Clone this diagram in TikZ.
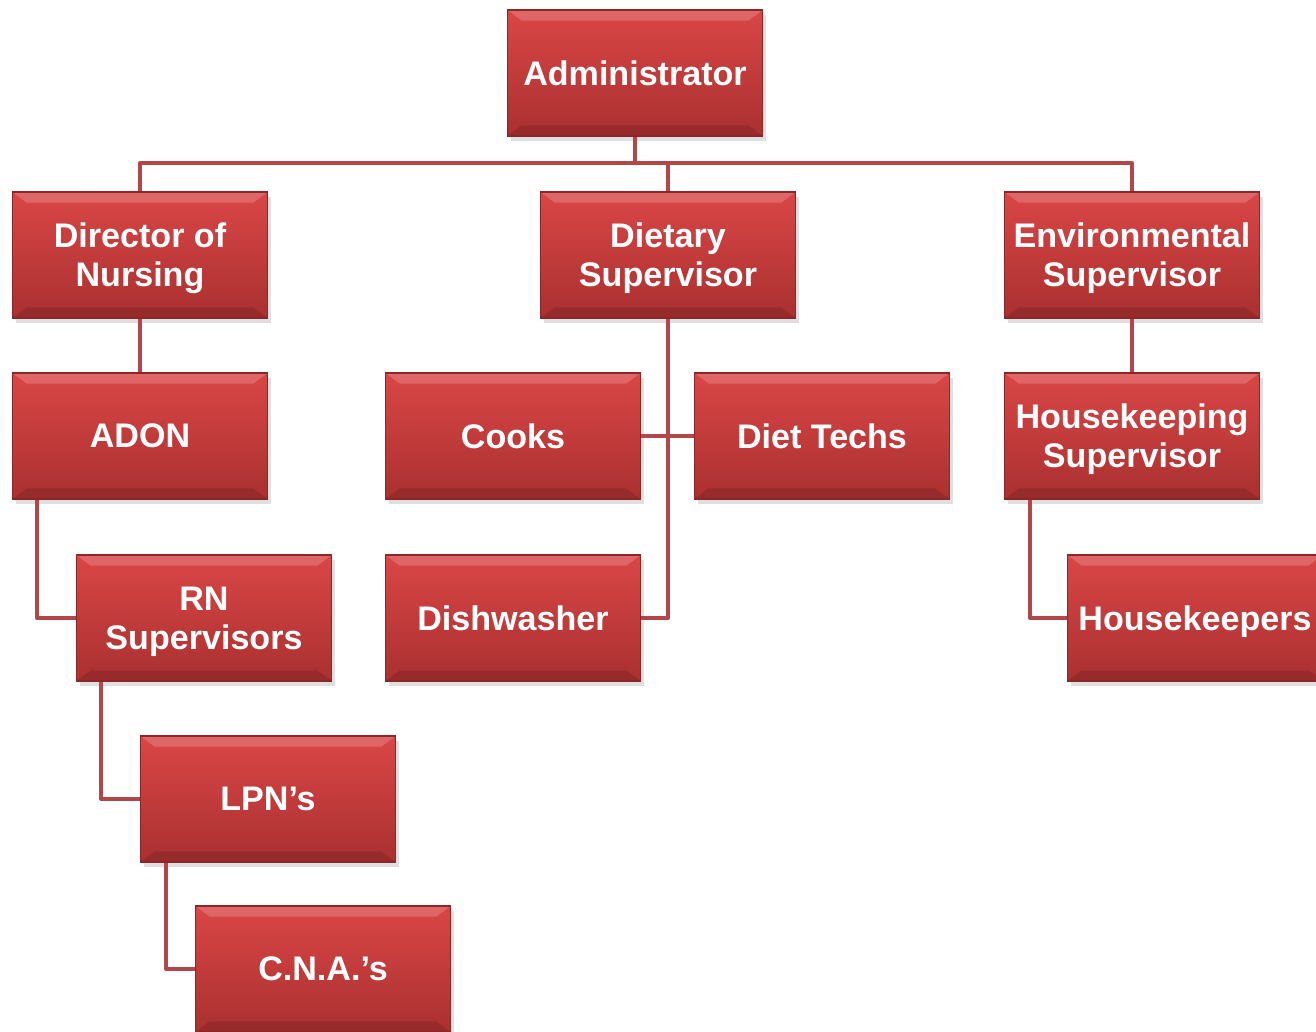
\documentclass[tikz,border=0pt]{standalone}
\usepackage{fontspec}
\setmainfont{Liberation Sans}
\usetikzlibrary{shadows}
\definecolor{boxTop}{RGB}{218,70,70}
\definecolor{boxBottom}{RGB}{170,48,48}
\definecolor{boxEdge}{RGB}{140,38,40}
\definecolor{linkRed}{RGB}{178,70,72}
\newcommand{\boxW}{5.1cm}
\newcommand{\boxH}{2.52cm}

\begin{document}
\begin{tikzpicture}[
		role/.style={rectangle, minimum width=\boxW, minimum height=\boxH,
			top color=boxTop, bottom color=boxBottom, draw=boxEdge, line width=0.6pt,
			drop shadow={shadow xshift=2pt, shadow yshift=-3pt, opacity=0.25},
			text=white, align=center, inner sep=2pt, text depth=0pt,
			font=\fontsize{19.4pt}{22.2pt}\selectfont\bfseries,
			path picture={
				\fill[white, opacity=0.18] (path picture bounding box.north west) -- (path picture bounding box.north east)
					-- ([xshift=-8pt, yshift=-6pt]path picture bounding box.north east) -- ([xshift=8pt, yshift=-6pt]path picture bounding box.north west) -- cycle;
				\fill[black, opacity=0.12] (path picture bounding box.south west) -- (path picture bounding box.south east)
					-- ([xshift=-8pt, yshift=6pt]path picture bounding box.south east) -- ([xshift=8pt, yshift=6pt]path picture bounding box.south west) -- cycle;
			}},
		link/.style={draw=linkRed, line width=2.3pt, line join=round}]
	\useasboundingbox (0,0) rectangle (26.32,-20.64);
	% connectors
	\coordinate (bus) at (12.7,-3.26);
	% top level
	\node[role] (admin) at (12.7, -1.46) {Administrator};
	% department heads
	\node[role] (nursing) at (2.8, -5.1) {Director of\\Nursing};
	\node[role] (dietary) at (13.36, -5.1) {Dietary\\Supervisor};
	\node[role] (environ) at (22.64, -5.1) {Environmental\\Supervisor};
	% second level
	\node[role] (adon) at (2.8, -8.72) {ADON};
	\node[role] (cooks) at (10.26, -8.72) {Cooks};
	\node[role] (techs) at (16.44, -8.72) {Diet Techs};
	\node[role] (hksup) at (22.64, -8.72) {Housekeeping\\Supervisor};
	% third level
	\node[role] (rn) at (4.08, -12.36) {RN\\Supervisors};
	\node[role] (dish) at (10.26, -12.36) {Dishwasher};
	\node[role] (hkeep) at (23.9, -12.36) {Housekeepers};
	% nursing staff
	\node[role] (lpn) at (5.36, -15.98) {LPN’s};
	\node[role] (cna) at (6.46, -19.38) {C.N.A.’s};

	\draw[link] (admin.south) -- (bus);
	\draw[link] (nursing.north) |- (bus) -| (environ.north);
	\draw[link] (dietary.north) -- (dietary.north |- bus);
	\draw[link] (nursing.south) -- (adon.north);
	\draw[link] ([xshift=0.5cm]adon.south west) |- (rn.west);
	\draw[link] ([xshift=0.5cm]rn.south west) |- (lpn.west);
	\draw[link] ([xshift=0.52cm]lpn.south west) |- (cna.west);
	\draw[link] (dietary.south) |- (dish.east);
	\draw[link] (cooks.east) -- (techs.west);
	\draw[link] (environ.south) -- (hksup.north);
	\draw[link] ([xshift=0.52cm]hksup.south west) |- (hkeep.west);
\end{tikzpicture}
\end{document}
